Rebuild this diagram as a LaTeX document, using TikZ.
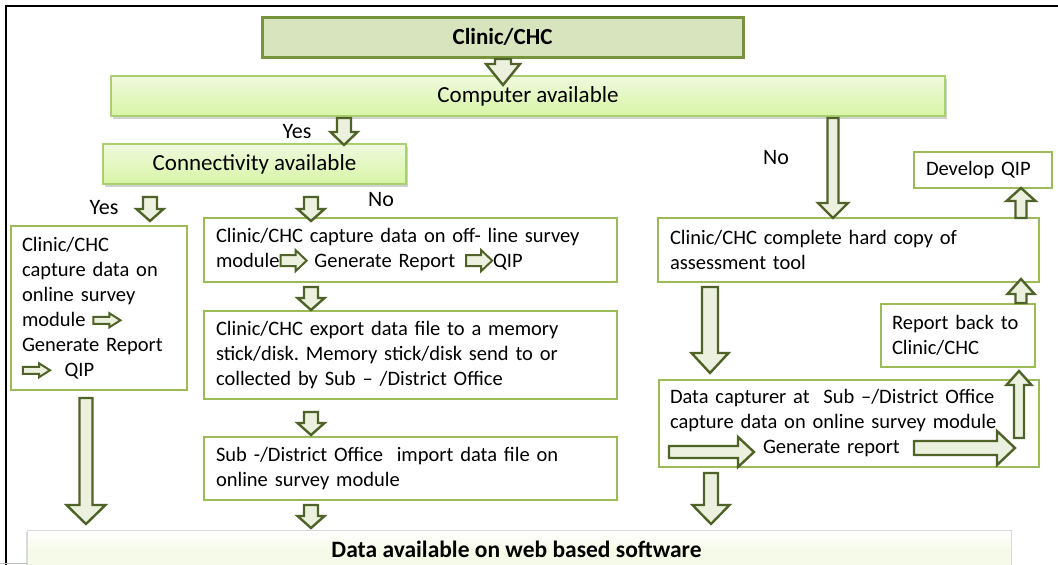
\documentclass[tikz,border=0pt]{standalone}
\usepackage{fontspec}
\setmainfont{Carlito}
\usetikzlibrary{calc,shadows}
\definecolor{boxgreen}{HTML}{9BBB59}
\definecolor{arrdark}{HTML}{4F6228}
\definecolor{arrfill}{HTML}{EBF1DE}
\definecolor{clinicfill}{HTML}{D7E4BD}
\definecolor{clinicdraw}{HTML}{77933C}
\definecolor{gradtop}{HTML}{EFF9DE}
\definecolor{gradbot}{HTML}{D8F5A6}
\definecolor{gradline}{HTML}{A9D06E}
\definecolor{bottomfill}{HTML}{F6FAE8}
\tikzset{
  box/.style={draw=boxgreen, line width=2.6pt, fill=white, rectangle, inner xsep=12pt, inner ysep=0pt, outer sep=0pt, align=left, font=\fontsize{20.5}{25}\selectfont},
  clinicbox/.style={draw=clinicdraw, line width=3pt, fill=clinicfill, rectangle, inner sep=0pt, outer sep=0pt, font=\fontsize{23}{27}\selectfont\bfseries},
  gradbox/.style={draw=gradline, line width=1.2pt, top color=gradtop, bottom color=gradbot, rectangle, inner sep=0pt, outer sep=0pt, font=\fontsize{23}{27}\selectfont, drop shadow={shadow xshift=1.5pt, shadow yshift=-2.5pt, fill=black!40, opacity=.45}},
  bottombox/.style={draw=black!15, line width=0.8pt, top color=white, bottom color=bottomfill, middle color=bottomfill, rectangle, inner sep=0pt, outer sep=0pt, drop shadow={shadow xshift=-1.5pt, shadow yshift=-1.5pt, fill=black!35, opacity=.4}},
  lbl/.style={inner sep=0pt, outer sep=0pt, font=\fontsize{22}{26}\selectfont},
  blockarrow/.style={draw=arrdark, fill=arrfill, line width=2.4pt, line join=miter},
  inarrow/.style={draw=arrdark, fill=arrfill, line width=2pt, line join=miter}
}
\newcommand\blockarr[5]{%
  \path let \p1=(#1), \p2=(#2), \n1={atan2(\y2-\y1,\x2-\x1)}, \n2={veclen(\x2-\x1,\y2-\y1)} in
    \pgfextra{\xdef\bkang{\n1}\xdef\bklen{\n2}\xdef\bkx{\x1}\xdef\bky{\y1}};
  \begin{scope}[shift={(\bkx,\bky)}, rotate=\bkang, x=1pt, y=1pt]
    \draw[blockarrow] (0,-#3) -- ({\bklen-#5},-#3) -- ({\bklen-#5},-#4) -- (\bklen,0)
      -- ({\bklen-#5},#4) -- ({\bklen-#5},#3) -- (0,#3) -- cycle;
  \end{scope}}
\newcommand\iarrA{\tikz[x=1pt,y=1pt,baseline=-6.5pt]\draw[inarrow] (0,-5.5)--(15,-5.5)--(15,-10.5)--(26,0)--(15,10.5)--(15,5.5)--(0,5.5)--cycle;}
\newcommand\iarrB{\tikz[x=1pt,y=1pt,baseline=-6pt]\draw[inarrow] (0,-3.5)--(16,-3.5)--(16,-7)--(27,0)--(16,7)--(16,3.5)--(0,3.5)--cycle;}
\begin{document}
\frenchspacing
\begin{tikzpicture}[x=1pt,y=-1pt]
\useasboundingbox (0,0) rectangle (1058,565);
\clip (0,0) rectangle (1058,565);
\fill[white] (0,0) rectangle (1058,565);
% outer frame
\draw[black, line width=2.2pt] (6,570) -- (6,6) -- (1065,6);
\draw[black!25, line width=0.8pt] (0,563.5) -- (27,563.5);

% boxes
\node[clinicbox, minimum width=481pt, minimum height=40pt] (clinic) at (502.5,37) {Clinic/CHC};
\node[gradbox, minimum width=834pt, minimum height=40pt] (computer) at (528,96) {Computer available};
\node[gradbox, minimum width=303pt, minimum height=40pt] (conn) at (254.5,164) {Connectivity available};

\node[box, minimum height=164pt, inner xsep=11pt, text width=154pt] (online) at (99,308)
  {Clinic/CHC\\capture data on\\online survey\\module \iarrB\\Generate Report\\\iarrB\ \ QIP};
\node[box, text width=389pt, minimum height=64pt] (offline) at (410.5,250)
  {Clinic/CHC capture data on off- line survey\\module\iarrA\ Generate Report\hspace{10pt}\iarrA QIP};
\node[box, text width=389pt, minimum height=88pt] (export) at (410.5,355)
  {Clinic/CHC export data file to a memory\\stick/disk. Memory stick/disk send to or\\collected by Sub -- /District Office};
\node[box, text width=389pt, minimum height=63pt] (import) at (410.5,468.5)
  {Sub -/District Office\ \ import data file on\\online survey module};
\node[box, text width=357pt, minimum height=64pt] (hard) at (848.5,250)
  {Clinic/CHC complete hard copy of\\assessment tool};
\node[box, text width=132pt, minimum height=63pt, inner xsep=11pt] (report) at (958,335.5)
  {Report back to\\Clinic/CHC};
\node[box, text width=358pt, minimum height=87pt, inner xsep=11pt] (capturer) at (849,423.5)
  {Data capturer at\ \ Sub --/District Office\\capture data on online survey module\\\hspace*{93pt}Generate report};
\node[box, text width=114pt, minimum height=36pt] (qip) at (983,170) {Develop QIP};
\node[bottombox, minimum width=984pt, minimum height=42pt] (web) at (519,551) {};
\node[inner sep=0pt, font=\fontsize{23.5}{27}\selectfont\bfseries] (webtext) at (516.5,549) {Data available on web based software};

% labels
\node[lbl, anchor=base] (yes1) at (297,138.5) {Yes};
\node[lbl, anchor=base] (yes2) at (104,214.5) {Yes};
\node[lbl, anchor=base] (no1) at (381,206) {No};
\node[lbl, anchor=base] (no2) at (776,164) {No};

% arrow end points
\coordinate (a1s) at (503,59);   \coordinate (a1e) at (503,85);
\coordinate (a2s) at (344,118);  \coordinate (a2e) at (344,145);
\coordinate (a3s) at (150,197);  \coordinate (a3e) at (150,221);
\coordinate (a4s) at (311,197);  \coordinate (a4e) at (311,221);
\coordinate (a5s) at (833,118);  \coordinate (a5e) at (833,218);
\coordinate (a6s) at (311,287);  \coordinate (a6e) at (311,310);
\coordinate (a7s) at (311,412);  \coordinate (a7e) at (311,435);
\coordinate (a8s) at (311,505);  \coordinate (a8e) at (311,528);
\coordinate (a9s) at (86,398);   \coordinate (a9e) at (86,524);
\coordinate (a10s) at (710,287); \coordinate (a10e) at (710,373);
\coordinate (a11s) at (711,473); \coordinate (a11e) at (711,524);
\coordinate (a12s) at (1021,218); \coordinate (a12e) at (1021,188);
\coordinate (a13s) at (1021,303); \coordinate (a13e) at (1021,279);
\coordinate (a14s) at (1019,438); \coordinate (a14e) at (1019,371);
\coordinate (a15s) at (669,452); \coordinate (a15e) at (754,452);
\coordinate (a16s) at (914,448); \coordinate (a16e) at (1015,448);

\blockarr{a1s}{a1e}{8}{17}{21}
\blockarr{a2s}{a2e}{7}{13.5}{13}
\blockarr{a3s}{a3e}{7}{13.5}{12}
\blockarr{a4s}{a4e}{7}{13.5}{12}
\blockarr{a5s}{a5e}{5.5}{15}{15}
\blockarr{a6s}{a6e}{7}{13.5}{12}
\blockarr{a7s}{a7e}{7}{13.5}{12}
\blockarr{a8s}{a8e}{7}{13.5}{12}
\blockarr{a9s}{a9e}{6.5}{19.5}{19}
\blockarr{a10s}{a10e}{8}{18.5}{20}
\blockarr{a11s}{a11e}{7}{18.5}{19}
\blockarr{a12s}{a12e}{5.5}{14.5}{13}
\blockarr{a13s}{a13e}{5.5}{13.5}{15}
\blockarr{a14s}{a14e}{5}{12.5}{14}
\blockarr{a15s}{a15e}{6}{15}{16}
\blockarr{a16s}{a16e}{7}{17}{18}
\end{tikzpicture}
\end{document}
